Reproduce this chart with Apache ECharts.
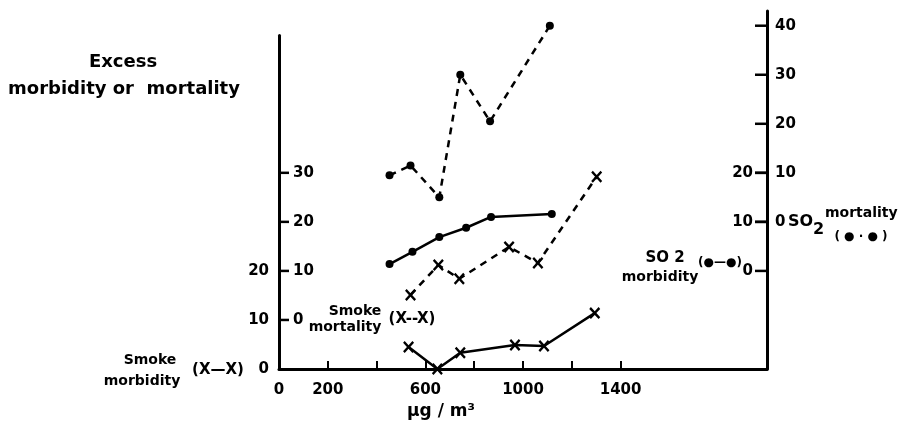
<!DOCTYPE html>
<html>
<head>
<meta charset="utf-8">
<script src="https://cdn.jsdelivr.net/npm/echarts@6/dist/echarts.min.js"></script>
<style>
  html, body { margin: 0; padding: 0; background: #fff; }
  #chart { width: 919px; height: 432px; }
</style>
</head>
<body>
<div id="chart"></div>
<script>
// Concentration (µg/m³) and excess rates for the four series
const so2MortX = [453, 539, 657, 743, 865, 1110];
const so2MortY = [9.5, 11.5, 5, 30, 20.5, 40];

const so2MorbX = [453, 547, 657, 767, 869, 1118];
const so2MorbY = [1.4, 3.9, 6.9, 8.8, 11, 11.6];

const smokeMortX = [539, 653, 739, 943, 1061, 1302];
const smokeMortY = [5.1, 11.2, 8.4, 14.9, 11.6, 29.2];

const smokeMorbX = [531, 649, 743, 967, 1086, 1294];
const smokeMorbY = [4.5, 0, 3.3, 4.9, 4.7, 11.4];

// Tick values
const xLabelValues = [0, 200, 600, 1000, 1400];
const xTickValues = [200, 400, 600, 800, 1000, 1200, 1400];
const smokeMorbTicks = [0, 10, 20];
const smokeMortTicks = [0, 10, 20, 30];
const so2MorbTicks = [0, 10, 20];
const so2MortTicks = [0, 10, 20, 30, 40];

const X_MAX = 2000;

const pairs = (xs, ys) => xs.map((x, i) => [x, ys[i]]);

const FONT = '"DejaVu Sans", sans-serif';
const INK = '#000';
const CROSS = 'path://M0,1.5 L1.5,0 L5,3.5 L8.5,0 L10,1.5 L6.5,5 L10,8.5 L8.5,10 L5,6.5 L1.5,10 L0,8.5 L3.5,5 Z';

const labelStyle = { color: INK, fontFamily: FONT, fontWeight: 'bold', fontSize: 15, formatter: v => String(v) };

const chart = echarts.init(document.getElementById('chart'), null, { renderer: 'canvas' });

function txt(text, x, y, size, align) {
  return {
    type: 'text', x: x, y: y, silent: true,
    style: {
      text: text, fill: INK,
      font: 'bold ' + size + 'px ' + FONT,
      textAlign: align || 'center', align: align || 'center',
      textVerticalAlign: 'middle', verticalAlign: 'middle'
    }
  };
}

const solidLine = (w) => ({ show: true, onZero: false, lineStyle: { color: INK, width: w } });
const noLine = { show: false, onZero: false };

const annotations = [
  txt('Excess', 123, 62, 18),
  txt('morbidity or  mortality', 124, 89, 18),
  txt('Smoke', 150, 360, 14),
  txt('morbidity', 142, 381, 14),
  txt('(X\u2014X)', 218, 370, 15),
  txt('Smoke', 355, 311, 14),
  txt('mortality', 345, 327, 14),
  txt('(X--X)', 412, 319, 15),
  txt('SO 2', 665, 258, 15),
  txt('morbidity', 660, 277, 14),
  txt('(\u25CF\u2014\u25CF)', 720, 263, 12),
  txt('SO', 788, 222, 16, 'left'),
  txt('2', 813, 230, 16, 'left'),
  txt('mortality', 825, 213, 14, 'left'),
  txt('( \u25CF \u00B7 \u25CF )', 861, 237, 12),
  txt('\u03BCg / m\u00B3', 441, 412, 17)
];

const option = {
  backgroundColor: '#fff',
  animation: false,
  grid: [
    // right-hand scale (SO2), reaches higher
    { left: 279, right: 152, top: 11, bottom: 63, containLabel: false },
    // left-hand scale (smoke)
    { left: 279, right: 152, top: 35.5, bottom: 63, containLabel: false }
  ],
  xAxis: [
    {
      gridIndex: 0, type: 'value', min: 0, max: X_MAX,
      axisLine: solidLine(3),
      axisTick: { show: true, inside: true, length: 8, customValues: xTickValues, lineStyle: { color: INK, width: 2 } },
      axisLabel: Object.assign({ customValues: xLabelValues, margin: 14 }, labelStyle),
      splitLine: { show: false }
    },
    {
      gridIndex: 1, type: 'value', min: 0, max: X_MAX, show: false,
      axisLine: noLine
    }
  ],
  yAxis: [
    // Smoke morbidity (outer left labels)
    {
      gridIndex: 1, type: 'value', position: 'left', min: 0, max: 68,
      axisLine: solidLine(3),
      axisTick: { show: false },
      axisLabel: Object.assign({ customValues: smokeMorbTicks, margin: 10 }, labelStyle),
      splitLine: { show: false }
    },
    // Smoke mortality (inner left labels)
    {
      gridIndex: 1, type: 'value', position: 'left', min: -10, max: 58,
      axisLine: noLine,
      axisTick: { show: false },
      axisLabel: Object.assign({ inside: true, customValues: smokeMortTicks, margin: 14 }, labelStyle),
      splitLine: { show: false }
    },
    // SO2 morbidity (inner right labels)
    {
      gridIndex: 0, type: 'value', position: 'right', min: -20, max: 53,
      axisLine: solidLine(3),
      axisTick: { show: false },
      axisLabel: Object.assign({ inside: true, customValues: so2MorbTicks, margin: 14 }, labelStyle),
      splitLine: { show: false }
    },
    // SO2 mortality (outer right labels)
    {
      gridIndex: 0, type: 'value', position: 'right', min: -30, max: 43,
      axisLine: noLine,
      axisTick: { show: false },
      axisLabel: Object.assign({ customValues: so2MortTicks, margin: 8 }, labelStyle),
      splitLine: { show: false }
    }
  ],
  series: [
    {
      name: 'SO2 mortality', type: 'line', xAxisIndex: 0, yAxisIndex: 3,
      data: pairs(so2MortX, so2MortY), clip: false,
      symbol: 'circle', symbolSize: 8, itemStyle: { color: INK },
      lineStyle: { color: INK, width: 2.5, type: [7, 6] }
    },
    {
      name: 'SO2 morbidity', type: 'line', xAxisIndex: 0, yAxisIndex: 2,
      data: pairs(so2MorbX, so2MorbY), clip: false,
      symbol: 'circle', symbolSize: 8, itemStyle: { color: INK },
      lineStyle: { color: INK, width: 2.5 }
    },
    {
      name: 'Smoke mortality', type: 'line', xAxisIndex: 1, yAxisIndex: 1,
      data: pairs(smokeMortX, smokeMortY), clip: false,
      symbol: CROSS, symbolSize: [11, 12], itemStyle: { color: INK },
      lineStyle: { color: INK, width: 2.5, type: [7, 6] }
    },
    {
      name: 'Smoke morbidity', type: 'line', xAxisIndex: 1, yAxisIndex: 0,
      data: pairs(smokeMorbX, smokeMorbY), clip: false,
      symbol: CROSS, symbolSize: [11, 12], itemStyle: { color: INK },
      lineStyle: { color: INK, width: 2.5 }
    }
  ],
  graphic: annotations
};

chart.setOption(option);

// Inward tick marks on the two vertical axes, placed through the axis scales
function tickLines(finder, xAt, values, dir, len) {
  return values.map(v => {
    const p = chart.convertToPixel(finder, [xAt, v]);
    return {
      type: 'line', silent: true, z: 10,
      shape: { x1: p[0], y1: p[1], x2: p[0] + dir * len, y2: p[1] },
      style: { stroke: INK, lineWidth: 2.5 }
    };
  });
}

const ticks = [].concat(
  tickLines({ xAxisIndex: 1, yAxisIndex: 1 }, 0, smokeMortTicks, 1, 10),
  tickLines({ xAxisIndex: 0, yAxisIndex: 3 }, X_MAX, so2MortTicks, -1, 12),
  tickLines({ xAxisIndex: 0, yAxisIndex: 2 }, X_MAX, so2MorbTicks, -1, 12)
);

chart.setOption({ graphic: annotations.concat(ticks) });
</script>
</body>
</html>
